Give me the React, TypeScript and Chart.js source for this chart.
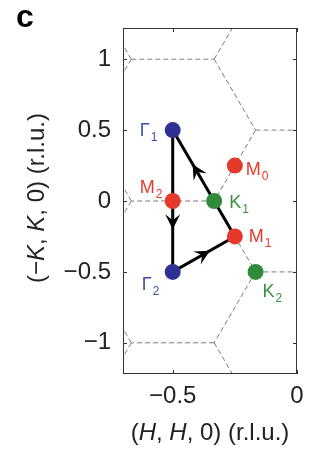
import React, { useEffect, useRef } from "react";
import { Chart, registerables } from "chart.js";
Chart.register(...registerables);

// ---- data ----
const xTicks = [-0.5, 0];
const xTickLabels = ["\u22120.5", "0"];
const yTicks = [-1, -0.5, 0, 0.5, 1];
const yTickLabels = ["\u22121", "\u22120.5", "0", "0.5", "1"];

const pointIds = ["G1", "G2", "M0", "M1", "M2", "K1", "K2"];
const pointLetters = ["\u0393", "\u0393", "M", "M", "M", "K", "K"];
const pointSubs = ["1", "2", "0", "1", "2", "1", "2"];
const pointKinds = ["G", "G", "M", "M", "M", "K", "K"];
const pointX = [-0.5, -0.5, -0.25, -0.25, -0.5, -1 / 3, -1 / 6];
const pointY = [0.5, -0.5, 0.25, -0.25, 0, 0, -0.5];

const pathIds = ["G1", "M2", "G2", "M1", "K1", "G1"];
const arrowFrom = ["M2", "G2", "K1"];
const arrowTo = ["G2", "M1", "G1"];
const arrowAt = [0.4, 0.6, 0.52];

// Brillouin-zone edges
const bzX1 = [-2 / 3, -1 / 3, -1 / 3, -2 / 3, -2 / 3, -1 / 6, -1 / 6, -1 / 3, -2 / 3, -2 / 3, -1 / 3, -1 / 6, -1 / 6, -1 / 3, -2 / 3, -2 / 3, -1 / 3];
const bzY1 = [1, 1, 1, 1, 1, 0.5, 0.5, 0, 0, 0, 0, -0.5, -0.5, -1, -1, -1, -1];
const bzX2 = [-1 / 3, -1 / 6, -1 / 6, -5 / 6, -5 / 6, 1 / 6, -1 / 3, -2 / 3, -5 / 6, -5 / 6, -1 / 6, 1 / 6, -1 / 3, -2 / 3, -5 / 6, -5 / 6, -1 / 6];
const bzY2 = [1, 0.5, 1.5, 1.5, 0.5, 0.5, 0, 0, 0.5, -0.5, -0.5, -0.5, -1, -1, -0.5, -1.5, -1.5];

// ---- styles ----
const FONT = "'Liberation Sans', Arial, Helvetica, sans-serif";
const MARK_COLOR: Record<string, string> = { G: "#2e3192", M: "#e5392b", K: "#2f8a3a" };
const LABEL_COLOR: Record<string, string> = { G: "#3d4fa6", M: "#e5392b", K: "#36913f" };
const LABEL_OFFSET: Record<string, [number, number]> = {
  G1: [-33, 6],
  G2: [-31, 18],
  M0: [11, 9],
  M1: [14, 6],
  M2: [-33, -8],
  K1: [15, 7],
  K2: [7, 25],
};

function pt(id: string) {
  const i = pointIds.indexOf(id);
  return { x: pointX[i], y: pointY[i] };
}

const overlay = {
  id: "overlay",
  afterDatasetsDraw(chart: any) {
    const { ctx, chartArea: a, scales } = chart;
    const xs = scales.x;
    const ys = scales.y;
    ctx.save();
    // frame
    ctx.strokeStyle = "#333";
    ctx.lineWidth = 1;
    ctx.setLineDash([]);
    ctx.strokeRect(a.left + 0.5, a.top + 0.5, a.right - a.left - 1, a.bottom - a.top - 1);
    // inside ticks, mirrored
    const tl = 4;
    ctx.beginPath();
    for (const v of xTicks) {
      const px = Math.round(xs.getPixelForValue(v)) + 0.5;
      ctx.moveTo(px, a.bottom);
      ctx.lineTo(px, a.bottom - tl);
      ctx.moveTo(px, a.top);
      ctx.lineTo(px, a.top + tl);
    }
    for (const v of yTicks) {
      const py = Math.round(ys.getPixelForValue(v)) + 0.5;
      ctx.moveTo(a.left, py);
      ctx.lineTo(a.left + tl, py);
      ctx.moveTo(a.right, py);
      ctx.lineTo(a.right - tl, py);
    }
    ctx.stroke();

    // arrowheads
    ctx.fillStyle = "#000";
    for (let i = 0; i < arrowFrom.length; i++) {
      const p0 = pt(arrowFrom[i]);
      const p1 = pt(arrowTo[i]);
      const x0 = xs.getPixelForValue(p0.x), y0 = ys.getPixelForValue(p0.y);
      const x1 = xs.getPixelForValue(p1.x), y1 = ys.getPixelForValue(p1.y);
      const t = arrowAt[i];
      const tx = x0 + (x1 - x0) * t, ty = y0 + (y1 - y0) * t;
      const d = Math.hypot(x1 - x0, y1 - y0);
      const ux = (x1 - x0) / d, uy = (y1 - y0) / d;
      const nx = -uy, ny = ux;
      const L = 15, W = 7.5;
      ctx.beginPath();
      ctx.moveTo(tx, ty);
      ctx.lineTo(tx - L * ux + W * nx, ty - L * uy + W * ny);
      ctx.lineTo(tx - 0.6 * L * ux, ty - 0.6 * L * uy);
      ctx.lineTo(tx - L * ux - W * nx, ty - L * uy - W * ny);
      ctx.closePath();
      ctx.fill();
    }

    // point labels
    ctx.textBaseline = "alphabetic";
    ctx.textAlign = "left";
    for (let i = 0; i < pointIds.length; i++) {
      const px = xs.getPixelForValue(pointX[i]);
      const py = ys.getPixelForValue(pointY[i]);
      const [dx, dy] = LABEL_OFFSET[pointIds[i]];
      ctx.fillStyle = LABEL_COLOR[pointKinds[i]];
      ctx.font = `18px ${FONT}`;
      ctx.fillText(pointLetters[i], px + dx, py + dy);
      const w = ctx.measureText(pointLetters[i]).width;
      ctx.font = `12px ${FONT}`;
      ctx.fillText(pointSubs[i], px + dx + w + 1, py + dy + 5);
    }

    // axis titles (mixed italic)
    const drawMixed = (parts: [string, boolean][], cx: number, cy: number) => {
      let total = 0;
      for (const [s, it] of parts) {
        ctx.font = `${it ? "italic " : ""}24px ${FONT}`;
        total += ctx.measureText(s).width;
      }
      let x = cx - total / 2;
      for (const [s, it] of parts) {
        ctx.font = `${it ? "italic " : ""}24px ${FONT}`;
        ctx.fillText(s, x, cy);
        x += ctx.measureText(s).width;
      }
    };
    ctx.fillStyle = "#222";
    ctx.textAlign = "left";
    drawMixed(
      [["(", false], ["H", true], [", ", false], ["H", true], [", 0) (r.l.u.)", false]],
      (a.left + a.right) / 2,
      440
    );
    ctx.save();
    ctx.translate(44, (a.top + a.bottom) / 2 - 3);
    ctx.rotate(-Math.PI / 2);
    drawMixed(
      [["(\u2212", false], ["K", true], [", ", false], ["K", true], [", 0) (r.l.u.)", false]],
      0,
      0
    );
    ctx.restore();

    // panel letter
    ctx.fillStyle = "#000";
    ctx.font = `bold 32px ${FONT}`;
    ctx.fillText("c", 16, 27);
    ctx.restore();
  },
};

export default function App() {
  const ref = useRef<HTMLCanvasElement | null>(null);
  useEffect(() => {
    if (!ref.current) return;
    const datasets: any[] = [];
    for (let i = 0; i < bzX1.length; i++) {
      datasets.push({
        data: [
          { x: bzX1[i], y: bzY1[i] },
          { x: bzX2[i], y: bzY2[i] },
        ],
        showLine: true,
        borderColor: "#7a7a7a",
        borderWidth: 1,
        borderDash: [5, 3],
        pointRadius: 0,
        order: 3,
      });
    }
    datasets.push({
      data: pathIds.map((id) => pt(id)),
      showLine: true,
      borderColor: "#000",
      borderWidth: 3,
      pointRadius: 0,
      order: 2,
    });
    datasets.push({
      data: pointIds.map((_, i) => ({ x: pointX[i], y: pointY[i] })),
      showLine: false,
      pointRadius: 8,
      pointBorderWidth: 0,
      pointBackgroundColor: pointKinds.map((k) => MARK_COLOR[k]),
      pointBorderColor: pointKinds.map((k) => MARK_COLOR[k]),
      order: 1,
    });

    const chart = new Chart(ref.current, {
      type: "scatter",
      data: { datasets },
      plugins: [overlay],
      options: {
        animation: false,
        responsive: false,
        maintainAspectRatio: false,
        devicePixelRatio: 1,
        layout: { padding: { left: 0, top: 28, right: 24, bottom: 0 } },
        plugins: { legend: { display: false }, tooltip: { enabled: false } },
        events: [],
        scales: {
          x: {
            type: "linear",
            min: -0.7,
            max: 0,
            grid: { display: false, drawTicks: false },
            border: { display: false },
            afterBuildTicks: (s: any) => {
              s.ticks = xTicks.map((v) => ({ value: v }));
            },
            afterFit: (s: any) => {
              s.height = 75;
            },
            ticks: {
              autoSkip: false,
              maxRotation: 0,
              padding: 8,
              color: "#222",
              font: { family: FONT, size: 24 },
              callback: (v: any) => xTickLabels[xTicks.indexOf(Number(v))] ?? "",
            },
          },
          y: {
            type: "linear",
            min: -1.22,
            max: 1.22,
            grid: { display: false, drawTicks: false },
            border: { display: false },
            afterBuildTicks: (s: any) => {
              s.ticks = yTicks.map((v) => ({ value: v }));
            },
            afterFit: (s: any) => {
              s.width = 123;
            },
            ticks: {
              autoSkip: false,
              padding: 12,
              color: "#222",
              font: { family: FONT, size: 24 },
              callback: (v: any) => yTickLabels[yTicks.indexOf(Number(v))] ?? "",
            },
          },
        },
      } as any,
    });
    return () => chart.destroy();
  }, []);
  return (
    <div style={{ position: "absolute", left: 0, top: 0, width: 321, height: 449, background: "#fff" }}>
      <canvas ref={ref} width={321} height={449} style={{ width: 321, height: 449, display: "block" }} />
    </div>
  );
}
